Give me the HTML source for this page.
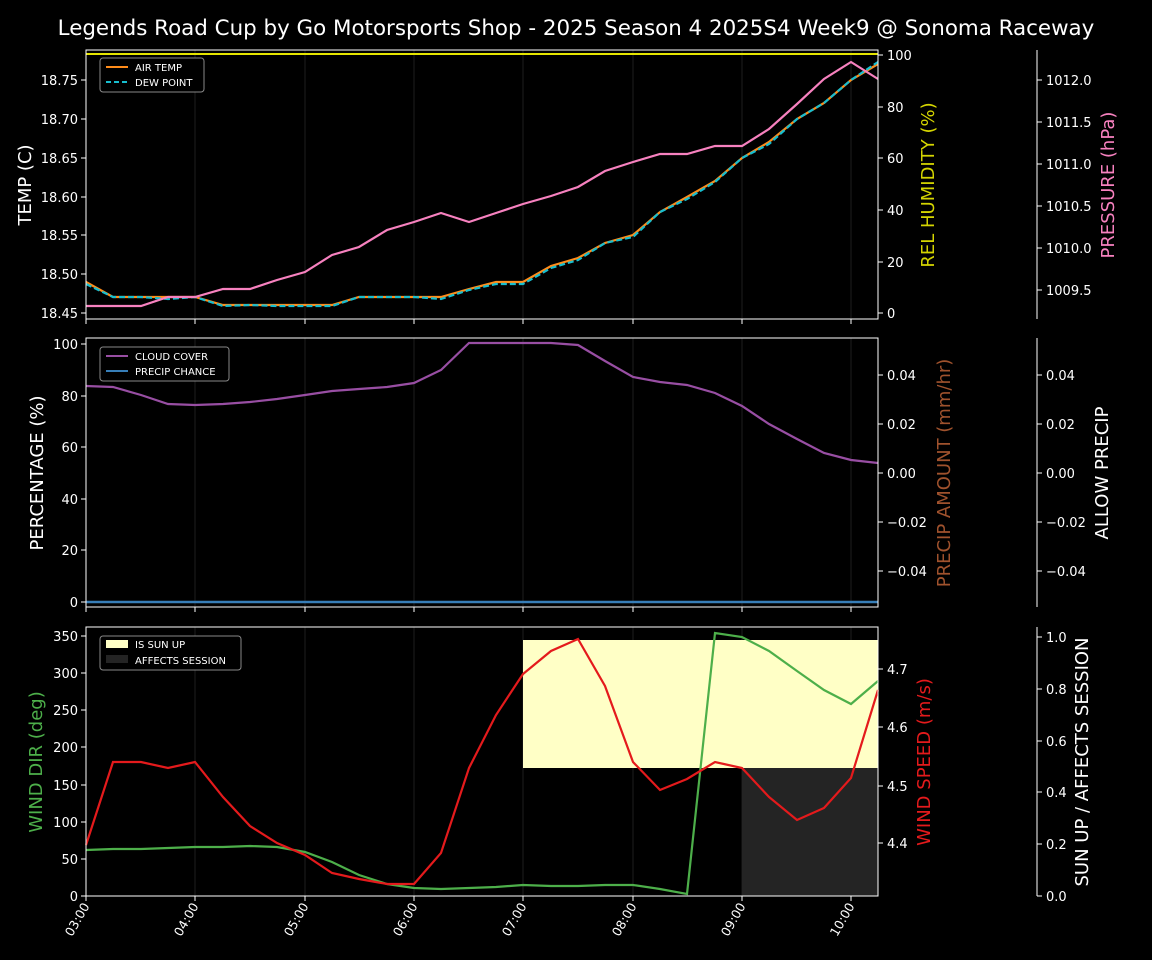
<!DOCTYPE html>
<html><head><meta charset="utf-8"><style>
html,body{margin:0;padding:0;background:#000;}
svg{display:block;font-family:"DejaVu Sans","Liberation Sans",sans-serif;}
</style></head><body>
<svg width="1152" height="960" viewBox="0 0 1152 960" xmlns="http://www.w3.org/2000/svg">
<rect width="1152" height="960" fill="#000"/>
<text x="576" y="35" fill="#fff" font-size="21.4" text-anchor="middle">Legends Road Cup by Go Motorsports Shop - 2025 Season 4 2025S4 Week9 @ Sonoma Raceway</text>

<g stroke="#333" stroke-width="1" opacity="0.6">
<line x1="195" y1="50" x2="195" y2="319"/><line x1="305" y1="50" x2="305" y2="319"/><line x1="414" y1="50" x2="414" y2="319"/><line x1="523" y1="50" x2="523" y2="319"/><line x1="633" y1="50" x2="633" y2="319"/><line x1="742" y1="50" x2="742" y2="319"/><line x1="851" y1="50" x2="851" y2="319"/>
<line x1="195" y1="338" x2="195" y2="607"/><line x1="305" y1="338" x2="305" y2="607"/><line x1="414" y1="338" x2="414" y2="607"/><line x1="523" y1="338" x2="523" y2="607"/><line x1="633" y1="338" x2="633" y2="607"/><line x1="742" y1="338" x2="742" y2="607"/><line x1="851" y1="338" x2="851" y2="607"/>
<line x1="195" y1="627" x2="195" y2="896"/><line x1="305" y1="627" x2="305" y2="896"/><line x1="414" y1="627" x2="414" y2="896"/><line x1="523" y1="627" x2="523" y2="896"/><line x1="633" y1="627" x2="633" y2="896"/><line x1="742" y1="627" x2="742" y2="896"/><line x1="851" y1="627" x2="851" y2="896"/>
</g>

<line x1="86" y1="54" x2="878" y2="54" stroke="#e5e500" stroke-width="2"/>
<polyline fill="none" stroke="#ff8c1a" stroke-width="2.2" points="86,282 113,297 141,297 168,297 195,297 223,305 250,305 277,305 305,305 332,305 359,297 387,297 414,297 441,297 469,289 496,282 523,282 551,266 578,258 605,243 633,235 660,212 687,197 715,181 742,158 769,142 797,119 824,103 851,80 878,64"/>
<polyline fill="none" stroke="#17becf" stroke-width="2.2" stroke-dasharray="6,3" points="86,284 113,297 141,297 168,299 195,297 223,306 250,305 277,306 305,306 332,306 359,297 387,297 414,297 441,299 469,290 496,284 523,284 551,268 578,260 605,243 633,237 660,212 687,199 715,182 742,158 769,144 797,119 824,103 851,80 878,62"/>
<polyline fill="none" stroke="#f781bf" stroke-width="2.2" points="86,306 113,306 141,306 168,297 195,297 223,289 250,289 277,280 305,272 332,255 359,247 387,230 414,222 441,213 469,222 496,213 523,204 551,196 578,187 605,171 633,162 660,154 687,154 715,146 742,146 769,129 797,104 824,79 851,62 878,79"/>
<rect x="86" y="50" width="792" height="269" fill="none" stroke="#fff" stroke-width="1"/>
<g fill="#fff" font-size="13" text-anchor="end">
<text x="78" y="318">18.45</text><text x="78" y="279">18.50</text><text x="78" y="240">18.55</text><text x="78" y="202">18.60</text><text x="78" y="163">18.65</text><text x="78" y="124">18.70</text><text x="78" y="85">18.75</text>
</g>
<g stroke="#fff"><line x1="81" y1="313" x2="86" y2="313"/><line x1="81" y1="274" x2="86" y2="274"/><line x1="81" y1="235" x2="86" y2="235"/><line x1="81" y1="197" x2="86" y2="197"/><line x1="81" y1="158" x2="86" y2="158"/><line x1="81" y1="119" x2="86" y2="119"/><line x1="81" y1="80" x2="86" y2="80"/>
<line x1="878" y1="313" x2="883" y2="313"/><line x1="878" y1="262" x2="883" y2="262"/><line x1="878" y1="210" x2="883" y2="210"/><line x1="878" y1="158" x2="883" y2="158"/><line x1="878" y1="107" x2="883" y2="107"/><line x1="878" y1="55" x2="883" y2="55"/>
<line x1="1037" y1="50" x2="1037" y2="319"/>
<line x1="1037" y1="290" x2="1042" y2="290"/><line x1="1037" y1="248" x2="1042" y2="248"/><line x1="1037" y1="206" x2="1042" y2="206"/><line x1="1037" y1="164" x2="1042" y2="164"/><line x1="1037" y1="122" x2="1042" y2="122"/><line x1="1037" y1="80" x2="1042" y2="80"/>
</g>
<g fill="#fff" font-size="13">
<text x="887" y="318">0</text><text x="887" y="267">20</text><text x="887" y="215">40</text><text x="887" y="163">60</text><text x="887" y="112">80</text><text x="887" y="60">100</text>
<text x="1046" y="295">1009.5</text><text x="1046" y="253">1010.0</text><text x="1046" y="211">1010.5</text><text x="1046" y="169">1011.0</text><text x="1046" y="127">1011.5</text><text x="1046" y="85">1012.0</text>
</g>
<text transform="translate(31,185) rotate(-90)" fill="#fff" font-size="18" text-anchor="middle">TEMP (C)</text>
<text transform="translate(934,185) rotate(-90)" fill="#d4d400" font-size="18" text-anchor="middle">REL HUMIDITY (%)</text>
<text transform="translate(1114,185) rotate(-90)" fill="#f781bf" font-size="18" text-anchor="middle">PRESSURE (hPa)</text>
<rect x="100" y="58" width="104" height="34" rx="3" fill="#000" stroke="#888"/>
<line x1="106" y1="67" x2="128" y2="67" stroke="#ff8c1a" stroke-width="2"/>
<line x1="106" y1="82" x2="128" y2="82" stroke="#17becf" stroke-width="2" stroke-dasharray="5,3"/>
<text x="135" y="71" fill="#fff" font-size="10">AIR TEMP</text><text x="135" y="86" fill="#fff" font-size="10">DEW POINT</text>

<line x1="86" y1="602" x2="878" y2="602" stroke="#377eb8" stroke-width="2.5"/>
<polyline fill="none" stroke="#984ea3" stroke-width="2.2" points="86,386 113,387 141,395 168,404 195,405 223,404 250,402 277,399 305,395 332,391 359,389 387,387 414,383 441,370 469,343 496,343 523,343 551,343 578,345 605,361 633,377 660,382 687,385 715,393 742,406 769,424 797,439 824,453 851,460 878,463"/>
<rect x="86" y="338" width="792" height="269" fill="none" stroke="#fff"/>
<g fill="#fff" font-size="13" text-anchor="end">
<text x="78" y="607">0</text><text x="78" y="555">20</text><text x="78" y="504">40</text><text x="78" y="452">60</text><text x="78" y="401">80</text><text x="78" y="349">100</text>
</g>
<g stroke="#fff">
<line x1="81" y1="602" x2="86" y2="602"/><line x1="81" y1="550" x2="86" y2="550"/><line x1="81" y1="499" x2="86" y2="499"/><line x1="81" y1="447" x2="86" y2="447"/><line x1="81" y1="396" x2="86" y2="396"/><line x1="81" y1="344" x2="86" y2="344"/>
<line x1="878" y1="375" x2="883" y2="375"/><line x1="878" y1="424" x2="883" y2="424"/><line x1="878" y1="473" x2="883" y2="473"/><line x1="878" y1="522" x2="883" y2="522"/><line x1="878" y1="571" x2="883" y2="571"/>
<line x1="1037" y1="338" x2="1037" y2="607"/>
<line x1="1037" y1="375" x2="1042" y2="375"/><line x1="1037" y1="424" x2="1042" y2="424"/><line x1="1037" y1="473" x2="1042" y2="473"/><line x1="1037" y1="522" x2="1042" y2="522"/><line x1="1037" y1="571" x2="1042" y2="571"/>
</g>
<g fill="#fff" font-size="13">
<text x="887" y="380">0.04</text><text x="887" y="429">0.02</text><text x="887" y="478">0.00</text><text x="887" y="527">−0.02</text><text x="887" y="576">−0.04</text>
<text x="1046" y="380">0.04</text><text x="1046" y="429">0.02</text><text x="1046" y="478">0.00</text><text x="1046" y="527">−0.02</text><text x="1046" y="576">−0.04</text>
</g>
<text transform="translate(43,473) rotate(-90)" fill="#fff" font-size="18" text-anchor="middle">PERCENTAGE (%)</text>
<text transform="translate(950,473) rotate(-90)" fill="#a0522d" font-size="18" text-anchor="middle">PRECIP AMOUNT (mm/hr)</text>
<text transform="translate(1108,473) rotate(-90)" fill="#fff" font-size="18" text-anchor="middle">ALLOW PRECIP</text>
<rect x="100" y="347" width="129" height="34" rx="3" fill="#000" stroke="#888"/>
<line x1="106" y1="356" x2="128" y2="356" stroke="#984ea3" stroke-width="2"/>
<line x1="106" y1="371" x2="128" y2="371" stroke="#377eb8" stroke-width="2"/>
<text x="135" y="360" fill="#fff" font-size="10">CLOUD COVER</text><text x="135" y="375" fill="#fff" font-size="10">PRECIP CHANCE</text>

<rect x="523" y="640" width="355" height="128" fill="#ffffc6"/>
<rect x="742" y="768" width="136" height="128" fill="#242424"/>
<polyline fill="none" stroke="#4daf4a" stroke-width="2.2" points="86,850 113,849 141,849 168,848 195,847 223,847 250,846 277,847 305,852 332,862 359,875 387,884 414,888 441,889 469,888 496,887 523,885 551,886 578,886 605,885 633,885 660,889 687,894 715,633 742,637 769,651 797,671 824,690 851,704 878,681"/>
<polyline fill="none" stroke="#e41a1c" stroke-width="2.2" points="86,845 113,762 141,762 168,768 195,762 223,797 250,826 277,843 305,855 332,873 359,879 387,884 414,884 441,853 469,768 496,715 523,674 551,651 578,639 605,686 633,762 660,790 687,779 715,762 742,768 769,797 797,820 824,808 851,778 878,690"/>
<rect x="86" y="627" width="792" height="269" fill="none" stroke="#fff"/>
<g fill="#fff" font-size="13" text-anchor="end">
<text x="78" y="901">0</text><text x="78" y="864">50</text><text x="78" y="827">100</text><text x="78" y="790">150</text><text x="78" y="752">200</text><text x="78" y="715">250</text><text x="78" y="678">300</text><text x="78" y="641">350</text>
</g>
<g stroke="#fff">
<line x1="81" y1="896" x2="86" y2="896"/><line x1="81" y1="859" x2="86" y2="859"/><line x1="81" y1="822" x2="86" y2="822"/><line x1="81" y1="785" x2="86" y2="785"/><line x1="81" y1="747" x2="86" y2="747"/><line x1="81" y1="710" x2="86" y2="710"/><line x1="81" y1="673" x2="86" y2="673"/><line x1="81" y1="636" x2="86" y2="636"/>
<line x1="878" y1="843" x2="883" y2="843"/><line x1="878" y1="786" x2="883" y2="786"/><line x1="878" y1="727" x2="883" y2="727"/><line x1="878" y1="669" x2="883" y2="669"/>
<line x1="1037" y1="627" x2="1037" y2="896"/>
<line x1="1037" y1="896" x2="1042" y2="896"/><line x1="1037" y1="844" x2="1042" y2="844"/><line x1="1037" y1="792" x2="1042" y2="792"/><line x1="1037" y1="741" x2="1042" y2="741"/><line x1="1037" y1="689" x2="1042" y2="689"/><line x1="1037" y1="637" x2="1042" y2="637"/>
</g>
<g fill="#fff" font-size="13">
<text x="887" y="848">4.4</text><text x="887" y="791">4.5</text><text x="887" y="732">4.6</text><text x="887" y="674">4.7</text>
<text x="1046" y="901">0.0</text><text x="1046" y="849">0.2</text><text x="1046" y="797">0.4</text><text x="1046" y="746">0.6</text><text x="1046" y="694">0.8</text><text x="1046" y="642">1.0</text>
</g>
<text transform="translate(42,762) rotate(-90)" fill="#4daf4a" font-size="18" text-anchor="middle">WIND DIR (deg)</text>
<text transform="translate(930,762) rotate(-90)" fill="#e41a1c" font-size="18" text-anchor="middle">WIND SPEED (m/s)</text>
<text transform="translate(1088,762) rotate(-90)" fill="#fff" font-size="18" text-anchor="middle">SUN UP / AFFECTS SESSION</text>
<rect x="100" y="636" width="141" height="34" rx="3" fill="#000" stroke="#888"/>
<rect x="106" y="640" width="22" height="8" fill="#ffffc6"/>
<rect x="106" y="655" width="22" height="8" fill="#242424"/>
<text x="135" y="648" fill="#fff" font-size="10">IS SUN UP</text><text x="135" y="664" fill="#fff" font-size="10">AFFECTS SESSION</text>

<g stroke="#fff">
<line x1="86" y1="319" x2="86" y2="324"/><line x1="195" y1="319" x2="195" y2="324"/><line x1="305" y1="319" x2="305" y2="324"/><line x1="414" y1="319" x2="414" y2="324"/><line x1="523" y1="319" x2="523" y2="324"/><line x1="633" y1="319" x2="633" y2="324"/><line x1="742" y1="319" x2="742" y2="324"/><line x1="851" y1="319" x2="851" y2="324"/>
<line x1="86" y1="607" x2="86" y2="612"/><line x1="195" y1="607" x2="195" y2="612"/><line x1="305" y1="607" x2="305" y2="612"/><line x1="414" y1="607" x2="414" y2="612"/><line x1="523" y1="607" x2="523" y2="612"/><line x1="633" y1="607" x2="633" y2="612"/><line x1="742" y1="607" x2="742" y2="612"/><line x1="851" y1="607" x2="851" y2="612"/>
<line x1="86" y1="896" x2="86" y2="901"/><line x1="195" y1="896" x2="195" y2="901"/><line x1="305" y1="896" x2="305" y2="901"/><line x1="414" y1="896" x2="414" y2="901"/><line x1="523" y1="896" x2="523" y2="901"/><line x1="633" y1="896" x2="633" y2="901"/><line x1="742" y1="896" x2="742" y2="901"/><line x1="851" y1="896" x2="851" y2="901"/>
</g>
<g fill="#fff" font-size="12.5" text-anchor="end">
<text transform="translate(90,906) rotate(-60)">03:00</text>
<text transform="translate(199,906) rotate(-60)">04:00</text>
<text transform="translate(309,906) rotate(-60)">05:00</text>
<text transform="translate(418,906) rotate(-60)">06:00</text>
<text transform="translate(527,906) rotate(-60)">07:00</text>
<text transform="translate(637,906) rotate(-60)">08:00</text>
<text transform="translate(746,906) rotate(-60)">09:00</text>
<text transform="translate(855,906) rotate(-60)">10:00</text>
</g>
</svg>
</body></html>
